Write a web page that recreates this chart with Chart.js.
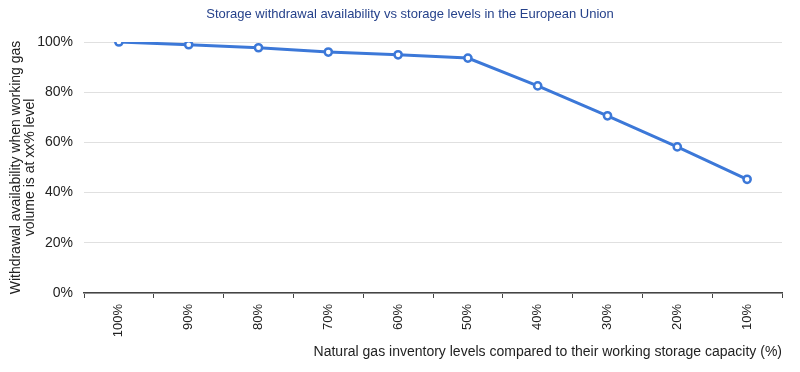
<!DOCTYPE html>
<html>
<head>
<meta charset="utf-8">
<script src="https://cdn.jsdelivr.net/npm/chart.js@4"></script>
<style>
  html, body { margin: 0; padding: 0; background: #fff; }
  #wrap { width: 800px; height: 372px; position: relative; }
</style>
</head>
<body>
<div id="wrap"><canvas id="c" width="800" height="372"></canvas></div>
<script>
const categories = ['100%', '90%', '80%', '70%', '60%', '50%', '40%', '30%', '20%', '10%'];
const availability = [100, 98.9, 97.7, 96.0, 94.9, 93.6, 82.5, 70.6, 58.2, 45.3];
const yTickValues = [0, 20, 40, 60, 80, 100];
const chartTitle = 'Storage withdrawal availability vs storage levels in the European Union';
const xTitle = 'Natural gas inventory levels compared to their working storage capacity (%)';
const yTitle = ['Withdrawal availability when working gas', 'volume is at xx% level'];

const FONT = '"Liberation Sans", Arial, sans-serif';

// shift the centred chart title to match the reference position
const titleShift = {
  id: 'titleShift',
  afterLayout(chart) {
    if (chart.titleBlock) {
      chart.titleBlock.left += 38;
    }
  }
};

new Chart(document.getElementById('c'), {
  type: 'line',
  data: {
    labels: categories,
    datasets: [{
      data: availability,
      borderColor: '#3c78d8',
      backgroundColor: '#ffffff',
      borderWidth: 3,
      pointRadius: 3.6,
      pointBorderWidth: 2.5,
      pointBackgroundColor: '#ffffff',
      pointBorderColor: '#3c78d8',
      tension: 0
    }]
  },
  plugins: [titleShift],
  options: {
    responsive: false,
    animation: false,
    devicePixelRatio: 1,
    layout: { padding: { left: 0, right: 18, top: 0, bottom: 0 } },
    plugins: {
      legend: { display: false },
      tooltip: { enabled: false },
      title: {
        display: true,
        text: chartTitle,
        color: '#26428b',
        font: { family: FONT, size: 13, weight: 'normal', lineHeight: 1.2 },
        padding: { top: 7, bottom: 19.4 }
      }
    },
    scales: {
      x: {
        type: 'category',
        offset: true,
        afterFit: (scale) => { scale.height = 79; },
        grid: {
          display: true,
          offset: true,
          drawOnChartArea: false,
          drawTicks: true,
          tickLength: 5,
          color: '#444',
          lineWidth: 1
        },
        border: { display: true, color: '#444', width: 1.5 },
        ticks: {
          color: '#222',
          font: { family: FONT, size: 13 },
          minRotation: 90,
          maxRotation: 90,
          padding: 6,
          autoSkip: false
        },
        title: {
          display: true,
          text: xTitle,
          align: 'end',
          color: '#222',
          font: { family: FONT, size: 14, lineHeight: 1.2 },
          padding: { top: 4, bottom: 11.6 }
        }
      },
      y: {
        min: 0,
        max: 100,
        afterFit: (scale) => { scale.width = 84; },
        afterBuildTicks: (scale) => { scale.ticks = yTickValues.map(v => ({ value: v })); },
        grid: {
          color: '#e0e0e0',
          lineWidth: 1,
          drawTicks: false
        },
        border: { display: false },
        ticks: {
          color: '#222',
          font: { family: FONT, size: 14 },
          padding: 11,
          callback: (v) => v + '%'
        },
        title: {
          display: true,
          text: yTitle,
          color: '#222',
          font: { family: FONT, size: 14, lineHeight: 1.0 },
          padding: { top: 9, bottom: 4 }
        }
      }
    }
  }
});
</script>
</body>
</html>
